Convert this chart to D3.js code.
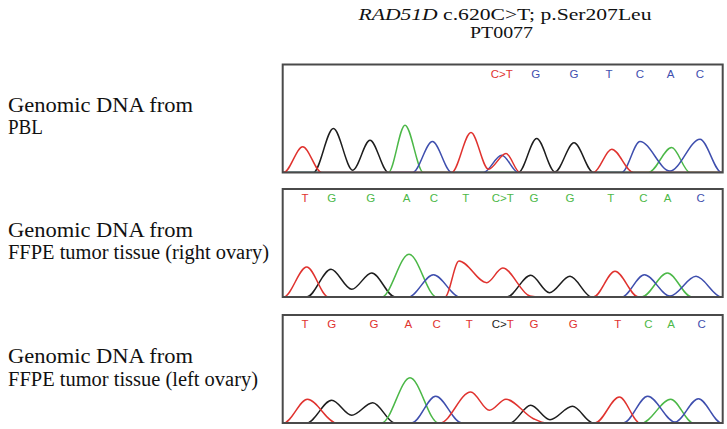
<!DOCTYPE html>
<html>
<head>
<meta charset="utf-8">
<script src="https://cdn.jsdelivr.net/npm/d3@7"></script>
<style>
  body { margin: 0; background: #fff; }
  svg { display: block; }
</style>
</head>
<body>
<svg id="chart" width="727" height="429"></svg>
<script>
// --- data ---
// x = position along the trace (px inside the panel), y = signal height
const titleGene = 'RAD51D'
const titleVariant = ' c.620C>T; p.Ser207Leu'
const titleSample = 'PT0077'

const sampleLabels = [
  ['Genomic DNA from', 'PBL'],
  ['Genomic DNA from', 'FFPE tumor tissue (right ovary)'],
  ['Genomic DNA from', 'FFPE tumor tissue (left ovary)']
]

// base calls: [text, position, channel]  ("|" splits multi-coloured calls)
const pblCalls = [
  ['C>T', 219, 'T'], ['G', 253, 'C'], ['G', 291.3, 'C'], ['T', 326.3, 'C'],
  ['C', 357.3, 'C'], ['A', 388, 'C'], ['C', 417.3, 'C']
]
const rightCalls = [
  ['T', 22.3, 'T'], ['G', 49, 'A'], ['G', 88, 'A'], ['A', 124, 'A'], ['C', 151.3, 'A'],
  ['T', 183, 'A'], ['C>T', 220, 'A'], ['G', 251.3, 'A'], ['G', 287.3, 'A'], ['T', 328, 'A'],
  ['C', 360.6, 'A'], ['A', 385, 'A'], ['C', 418, 'C']
]
const leftCalls = [
  ['T', 22.3, 'T'], ['G', 49, 'T'], ['G', 91.3, 'T'], ['A', 125.6, 'T'], ['C', 154, 'T'],
  ['T', 186.6, 'T'], ['C>|T', 220, 'G|T'], ['G', 251.3, 'T'], ['G', 290.6, 'T'], ['T', 335, 'T'],
  ['C', 365.6, 'A'], ['A', 388.3, 'A'], ['C', 419, 'C']
]

// trace points per channel (peaks, valleys and feet)
const pblTraces = {
  T: [[0,0],[1,0],[20,25.7],[39,0],[169,0],[188.3,40],[205.7,3.3],[223.3,19],[237.3,0],[310.7,0],[329,23.3],[350.7,0],[440,0]],
  G: [[0,0],[30.7,0],[50.7,44],[70,2.3],[87.3,32.3],[105.7,0],[235.7,0],[254,34],[272.3,0.7],[291.3,29.7],[310.7,0],[440,0]],
  A: [[0,0],[105.7,0],[122.3,47.3],[140.7,0],[365.7,0],[389,25],[407.3,0],[440,0]],
  C: [[0,0],[130,0],[149.7,31],[169,0],[200.7,0],[219,17.3],[235.7,0],[339,0],[357.3,31],[387.3,1.5],[417.3,33.3],[439,0],[440,0]]
}
const rightTraces = {
  T: [[0,0],[1,0],[24,30],[45.7,0],[162.3,0],[176.3,36],[204,14.3],[220,29],[247.3,1],[257.3,0],[310.7,0],[332.3,25.7],[355.7,0],[440,0]],
  G: [[0,0],[24,0],[48.3,27.7],[69,7.7],[89,24],[112.3,0],[224,0],[248,21.7],[266.7,4.3],[287.3,20.7],[309,0],[440,0]],
  A: [[0,0],[99,0],[126.3,42.7],[154,0],[359,0],[384.7,24],[409,0],[440,0]],
  C: [[0,0],[125.7,0],[150.7,22.3],[177.3,0],[339,0],[361.7,22.3],[387.3,1],[413.3,20.7],[439,0],[440,0]]
}
const leftTraces = {
  T: [[0,0],[1,0],[24.7,23.7],[54,0],[157.3,0],[188,31],[206.7,12.7],[223.3,23.7],[250.7,4.3],[264,0],[312.3,0],[336.7,26],[357.3,0],[440,0]],
  G: [[0,0],[24,0],[49,22.7],[69,7.7],[90,20.3],[112.3,0],[227.3,0],[248,17.7],[267.3,3.3],[289.7,16.7],[310.7,0],[440,0]],
  A: [[0,0],[99,0],[127.3,45.3],[155.7,0],[359,0],[388,23.7],[410.7,0],[440,0]],
  C: [[0,0],[129,0],[153,26.7],[179,0],[340.7,0],[365,26.7],[392.3,1],[415.7,24.3],[439,0],[440,0]]
}

// --- styling / layout ---
const channelColor = { A: '#4cb848', C: '#3f4fae', G: '#1e1e1e', T: '#e0332f' }
const panels = [
  { top: 64.5, calls: pblCalls, traces: pblTraces, labelY: [111.7, 134.3], labelW: [185, 35] },
  { top: 189, calls: rightCalls, traces: rightTraces, labelY: [236.7, 258.5], labelW: [185, 261] },
  { top: 315, calls: leftCalls, traces: leftTraces, labelY: [363, 386], labelW: [185, 250] }
]
const panelX = 282.7, panelW = 440, panelH = 108

const svg = d3.select('#chart')

// title
const t1 = svg.append('text').attr('x', 505).attr('y', 19.8).attr('text-anchor', 'middle')
  .style('font-family', '"Liberation Serif", serif').style('font-size', '16px').attr('fill', '#111')
t1.append('tspan').style('font-style', 'italic').text(titleGene)
t1.append('tspan').text(titleVariant)
t1.attr('textLength', 293).attr('lengthAdjust', 'spacingAndGlyphs')

svg.append('text').attr('x', 501.5).attr('y', 37.8).attr('text-anchor', 'middle')
  .style('font-family', '"Liberation Serif", serif').style('font-size', '16px').attr('fill', '#111')
  .attr('textLength', 63).attr('lengthAdjust', 'spacingAndGlyphs')
  .text(titleSample)

const x = d3.scaleLinear().domain([0, panelW]).range([panelX, panelX + panelW])

panels.forEach((p, i) => {
  const y = d3.scaleLinear().domain([0, panelH]).range([p.top + panelH, p.top])
  const g = svg.append('g')

  // sample label on the left
  sampleLabels[i].forEach((line, k) => {
    g.append('text').attr('x', 8).attr('y', p.labelY[k])
      .style('font-family', '"Liberation Serif", serif').style('font-size', '20px').attr('fill', '#111')
      .attr('textLength', p.labelW[k]).attr('lengthAdjust', 'spacingAndGlyphs')
      .text(line)
  })

  const clipId = 'clip' + i
  svg.append('clipPath').attr('id', clipId).append('rect')
    .attr('x', panelX).attr('y', p.top).attr('width', panelW).attr('height', panelH)

  const line = d3.line().x(d => x(d[0])).y(d => y(d[1])).curve(d3.curveMonotoneX)
  const traces = g.append('g').attr('clip-path', `url(#${clipId})`)
  ;['G', 'A', 'C', 'T'].forEach(ch => {
    traces.append('path').datum(p.traces[ch])
      .attr('d', line).attr('fill', 'none')
      .attr('stroke', channelColor[ch]).attr('stroke-width', 1.5)
  })

  // base calls
  p.calls.forEach(c => {
    const txt = g.append('text').attr('x', x(c[1])).attr('y', p.top + 13)
      .attr('text-anchor', 'middle')
      .style('font-family', '"Liberation Sans", Arial, sans-serif').style('font-size', '11.5px')
    const parts = c[0].split('|'), chans = c[2].split('|')
    parts.forEach((s, j) => txt.append('tspan').attr('fill', channelColor[chans[j]]).text(s))
  })

  // frame
  g.append('rect').attr('x', panelX).attr('y', p.top).attr('width', panelW).attr('height', panelH)
    .attr('fill', 'none').attr('stroke', '#4a4a4a').attr('stroke-width', 2)
})
</script>
</body>
</html>
